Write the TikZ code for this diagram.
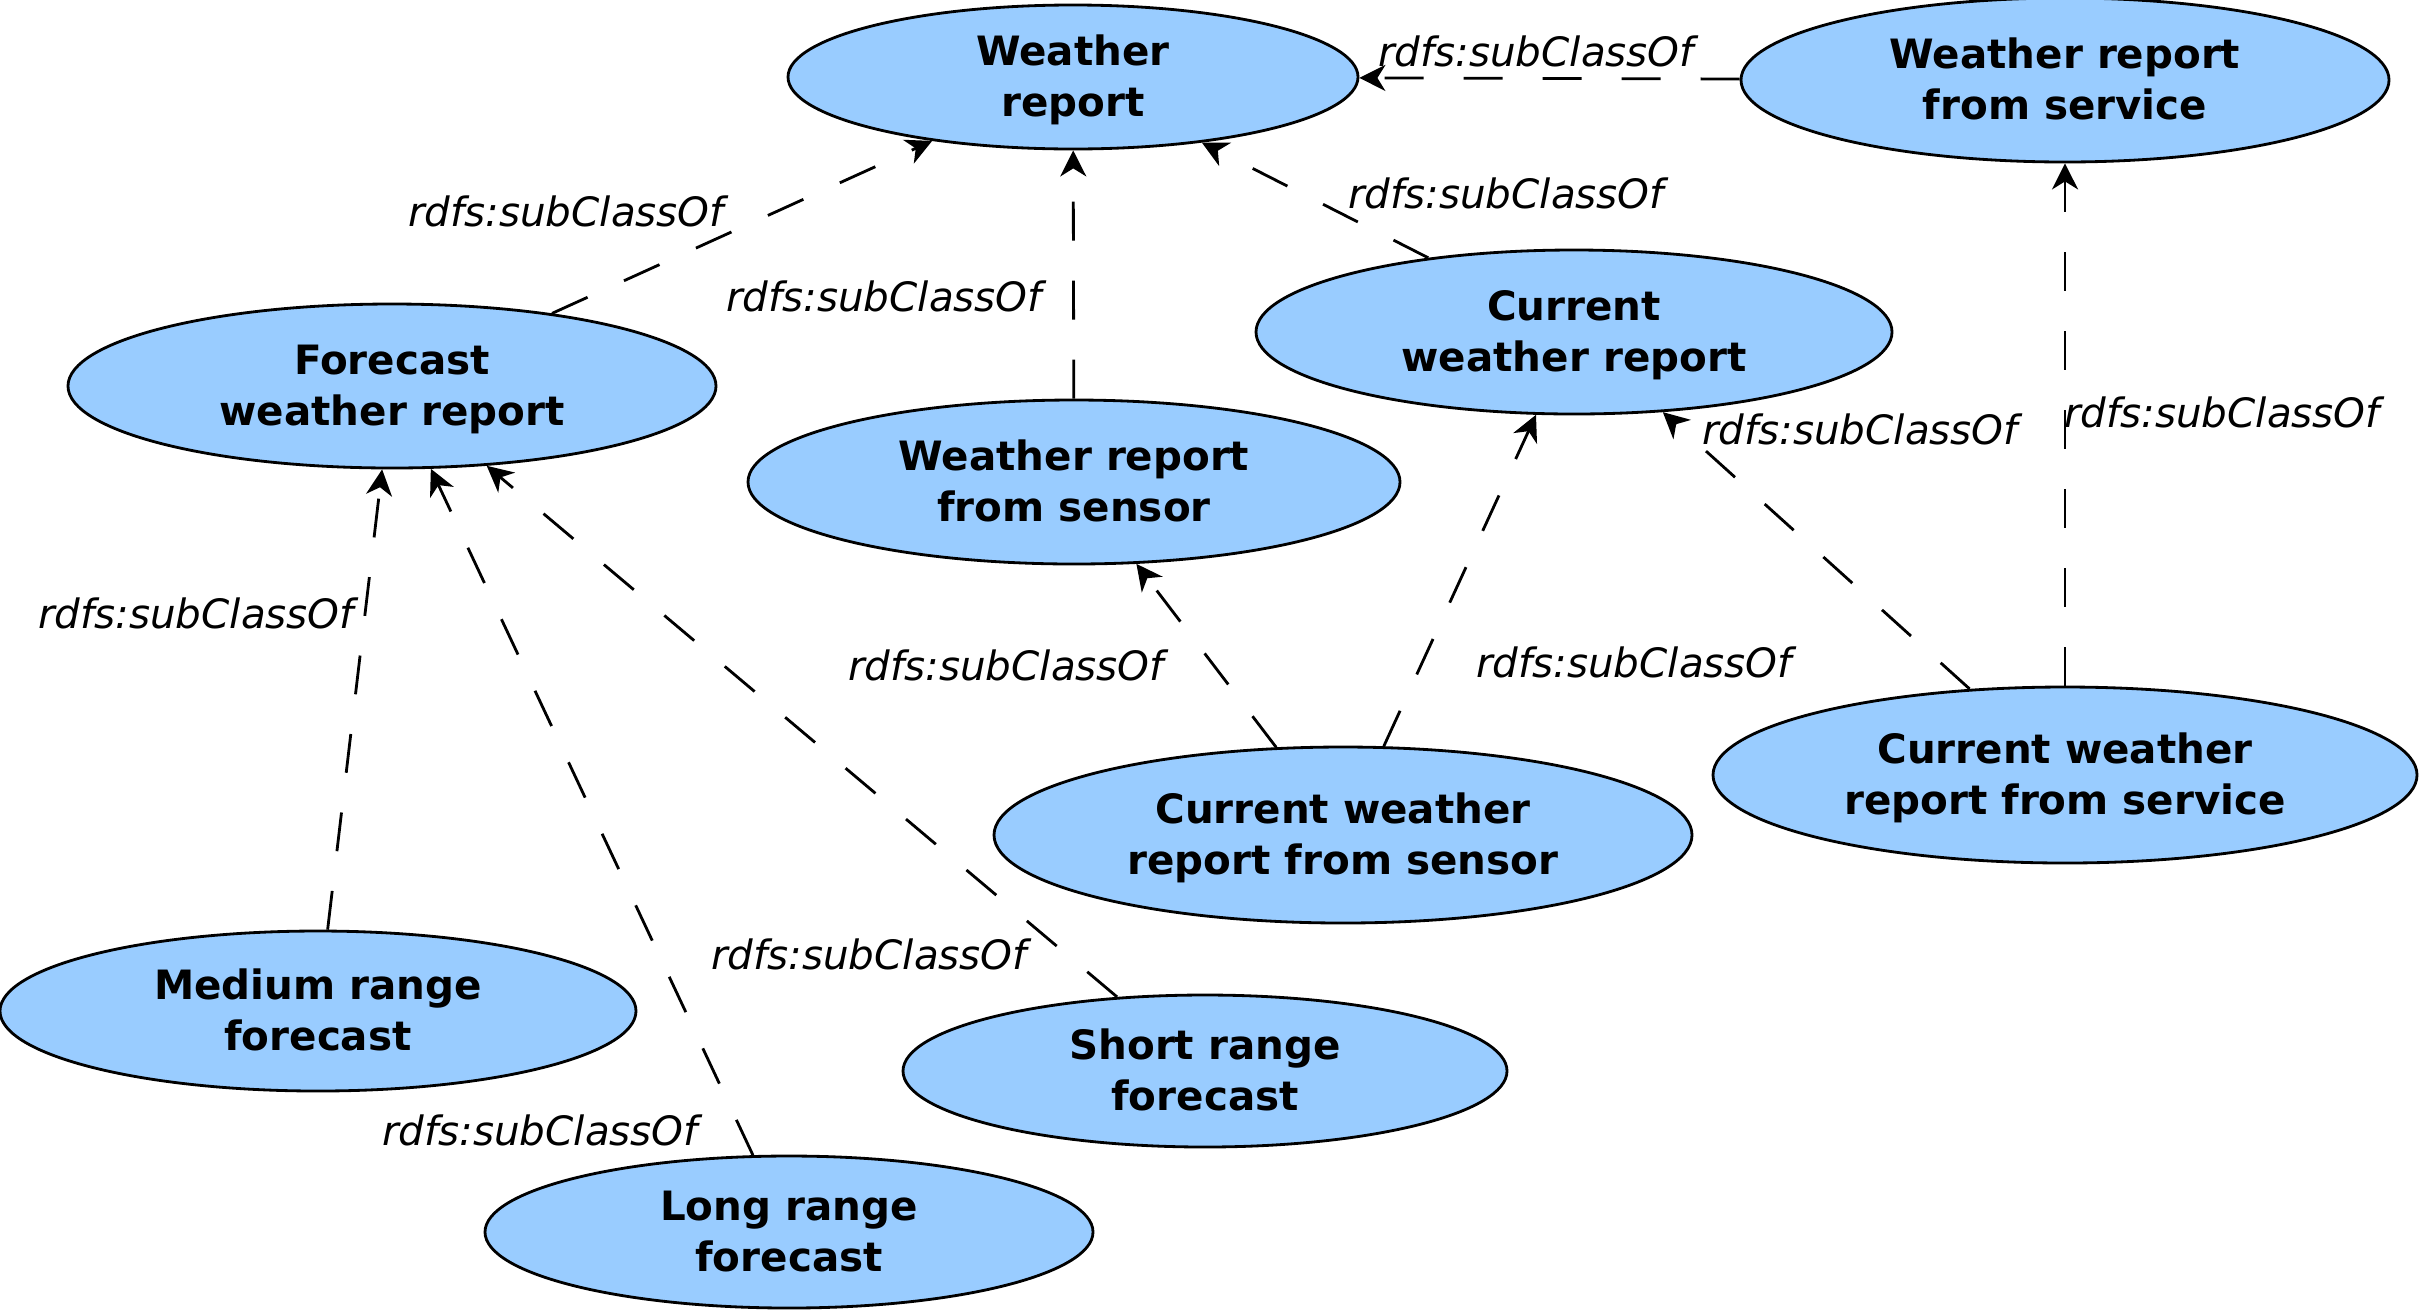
\documentclass[tikz,border=0pt]{standalone}
\usepackage{fontspec}
\setmainfont{DejaVu Sans}
\usetikzlibrary{shapes.geometric,arrows.meta}
\definecolor{classblue}{HTML}{99CCFF}

\begin{document}
\begin{tikzpicture}[
    cls/.style={ellipse, draw, line width=0.8pt, fill=classblue, inner sep=0pt,
        align=center, font=\fontsize{11.5}{14.3}\selectfont\bfseries,
        text height=24.7pt, text depth=2.5pt},
    sub/.style={line width=0.8pt, dash pattern=on 0.39cm off 0.4cm,
        -{Stealth[length=0.26cm, width=0.26cm, inset=0.08cm]}},
    lbl/.style={font=\fontsize{11.5}{14}\selectfont\itshape, inner sep=0pt}]
    \useasboundingbox (0,0) rectangle (24.2,-13.1);

    % Classes
    \node[cls, minimum width=5.7cm, minimum height=1.44cm] (wr) at (10.73,-0.77) {Weather\\report};
    \node[cls, minimum width=6.48cm, minimum height=1.64cm] (service) at (20.65,-0.80) {Weather report\\from service};
    \node[cls, minimum width=6.48cm, minimum height=1.64cm] (forecast) at (3.92,-3.86) {Forecast\\weather report};
    \node[cls, minimum width=6.36cm, minimum height=1.64cm] (current) at (15.74,-3.32) {Current\\weather report};
    \node[cls, minimum width=6.52cm, minimum height=1.64cm] (sensor) at (10.74,-4.82) {Weather report\\from sensor};
    \node[cls, minimum width=6.98cm, minimum height=1.76cm] (cursensor) at (13.43,-8.35) {Current weather\\report from sensor};
    \node[cls, minimum width=7.04cm, minimum height=1.76cm] (curservice) at (20.65,-7.75) {Current weather\\report from service};
    \node[cls, minimum width=6.36cm, minimum height=1.60cm] (medium) at (3.18,-10.11) {Medium range\\forecast};
    \node[cls, minimum width=6.04cm, minimum height=1.52cm] (shortrange) at (12.05,-10.71) {Short range\\forecast};
    \node[cls, minimum width=6.08cm, minimum height=1.52cm] (longrange) at (7.89,-12.32) {Long range\\forecast};

    % subClassOf links
    \foreach \from/\to in {service/wr, forecast/wr, sensor/wr, current/wr,
        medium/forecast, longrange/forecast, shortrange/forecast,
        cursensor/sensor, cursensor/current, curservice/current, curservice/service}
        \draw[sub] (\from) -- (\to);

    % Labels
    \node[lbl] (l1) at (15.36,-0.51) {rdfs:subClassOf};
    \node[lbl] (l2) at (5.66,-2.11) {rdfs:subClassOf};
    \node[lbl] (l3) at (8.84,-2.96) {rdfs:subClassOf};
    \node[lbl] (l4) at (15.06,-1.93) {rdfs:subClassOf};
    \node[lbl] (l5) at (1.96,-6.13) {rdfs:subClassOf};
    \node[lbl] (l6) at (5.40,-11.30) {rdfs:subClassOf};
    \node[lbl] (l7) at (8.69,-9.54) {rdfs:subClassOf};
    \node[lbl] (l8) at (10.06,-6.65) {rdfs:subClassOf};
    \node[lbl] (l9) at (16.34,-6.62) {rdfs:subClassOf};
    \node[lbl] (l10) at (18.60,-4.29) {rdfs:subClassOf};
    \node[lbl] (l11) at (22.22,-4.12) {rdfs:subClassOf};
\end{tikzpicture}
\end{document}
